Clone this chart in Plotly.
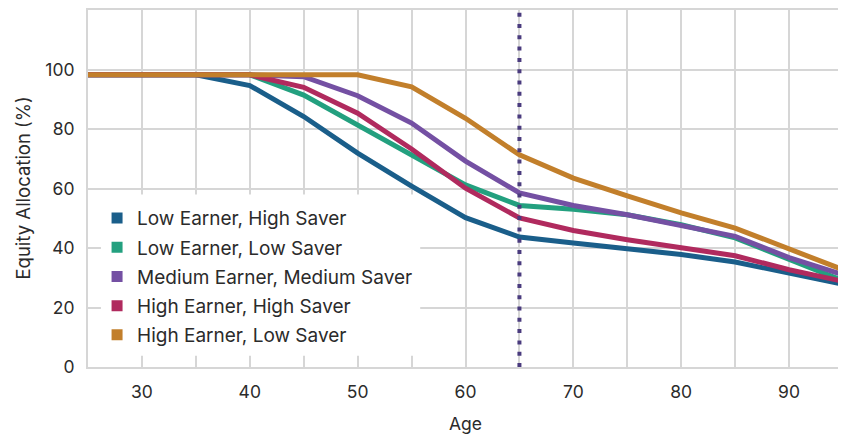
import plotly.graph_objects as go

ages = [25, 30, 35, 40, 45, 50, 55, 60, 65, 70, 75, 80, 85, 90, 95]

series_names = [
    "Low Earner, High Saver",
    "Low Earner, Low Saver",
    "Medium Earner, Medium Saver",
    "High Earner, High Saver",
    "High Earner, Low Saver",
]

low_high = [98.2, 98.2, 98.2, 94.6, 84.2, 71.9, 60.8, 50.2, 43.7, 41.7, 39.7, 37.8, 35.3, 31.4, 27.8]
low_low = [98.2, 98.2, 98.2, 98.2, 91.4, 81.4, 71.0, 61.2, 54.3, 53.0, 51.2, 47.8, 43.4, 36.2, 29.0]
med_med = [98.2, 98.2, 98.2, 98.2, 97.6, 91.2, 82.0, 69.2, 58.5, 54.3, 51.2, 47.5, 43.9, 36.8, 31.0]
high_high = [98.2, 98.2, 98.2, 98.2, 94.0, 85.3, 73.3, 60.1, 50.1, 45.9, 42.8, 40.0, 37.4, 32.7, 28.8]
high_low = [98.2, 98.2, 98.2, 98.2, 98.2, 98.2, 94.2, 83.6, 71.3, 63.5, 57.5, 51.8, 46.7, 39.7, 32.7]

series_values = [low_high, low_low, med_med, high_high, high_low]
colors = ["#1a5e8a", "#23a07f", "#7450a3", "#b02a5e", "#c27f2b"]

retirement_age = 65

x_tickvals = [25, 30, 35, 40, 45, 50, 55, 60, 65, 70, 75, 80, 85, 90, 95]
x_ticktext = ["", "30", "", "40", "", "50", "", "60", "", "70", "", "80", "", "90", ""]
y_tickvals = [0, 20, 40, 60, 80, 100]
y_ticktext = ["0", "20", "40", "60", "80", "100"]

x_title = "Age"
y_title = "Equity Allocation (%)"

FONT = "Inter, Liberation Sans, Arial, sans-serif"
TXT = "#2b2b2b"
GRID = "#d6d6d6"

fig = go.Figure()

for name, vals, col in zip(series_names, series_values, colors):
    fig.add_trace(go.Scatter(
        x=ages, y=vals, mode="lines", name=name,
        line=dict(color=col, width=5), showlegend=False, hoverinfo="x+y+name",
    ))

for i, (name, col) in enumerate(zip(series_names, colors)):
    fig.add_trace(go.Scatter(
        x=[None], y=[None], mode="markers", name=name, legendgroup="g%d" % i,
        marker=dict(symbol="square", size=11, color=col), showlegend=True,
    ))

# white panel behind the legend (hides gridlines)
fig.add_shape(type="rect", xref="x", yref="y", x0=26.2, x1=55.8, y0=3.8, y1=58.0,
              fillcolor="white", line=dict(width=0), layer="between")

# retirement line
fig.add_shape(type="line", xref="x", yref="paper", x0=retirement_age, x1=retirement_age,
              y0=0, y1=1.0, line=dict(color="#4a3b7e", width=4, dash="4px,7.3px"),
              layer="above")

# axis titles
fig.add_annotation(text=y_title, xref="paper", yref="paper", x=-0.0874, y=0.5,
                   xanchor="center", yanchor="middle", textangle=-90, showarrow=False,
                   font=dict(family=FONT, size=18.5, color=TXT))
fig.add_annotation(text=x_title, xref="paper", yref="paper", x=0.5, y=-0.194,
                   xanchor="center", yanchor="bottom", showarrow=False,
                   font=dict(family=FONT, size=17.5, color=TXT))

fig.update_layout(
    width=838, height=429,
    margin=dict(l=80, r=3, t=2, b=70),
    paper_bgcolor="white", plot_bgcolor="white",
    font=dict(family=FONT, size=18, color=TXT),
    showlegend=True,
    legend=dict(
        x=0.012, y=0.47, xanchor="left", yanchor="top",
        bgcolor="rgba(0,0,0,0)", borderwidth=0,
        font=dict(family=FONT, size=19, color=TXT),
        tracegroupgap=1.5, itemwidth=30,
    ),
    xaxis=dict(
        range=[25, 95], tickmode="array", tickvals=x_tickvals, ticktext=x_ticktext,
        showgrid=True, gridcolor=GRID, gridwidth=2,
        showline=True, linecolor=GRID, linewidth=2, mirror=True,
        ticks="inside", ticklen=10, tickcolor=GRID, tickwidth=2,
        ticklabelstandoff=8, zeroline=False, automargin=False,
        tickfont=dict(size=17.5, color=TXT),
    ),
    yaxis=dict(
        range=[0, 120], tickmode="array", tickvals=y_tickvals, ticktext=y_ticktext,
        showgrid=True, gridcolor=GRID, gridwidth=2,
        showline=True, linecolor=GRID, linewidth=2, mirror=True,
        ticks="inside", ticklen=10, tickcolor=GRID, tickwidth=2,
        ticklabelstandoff=8, zeroline=False, automargin=False,
        tickfont=dict(size=17.5, color=TXT),
    ),
)

fig.write_html("out.html")
